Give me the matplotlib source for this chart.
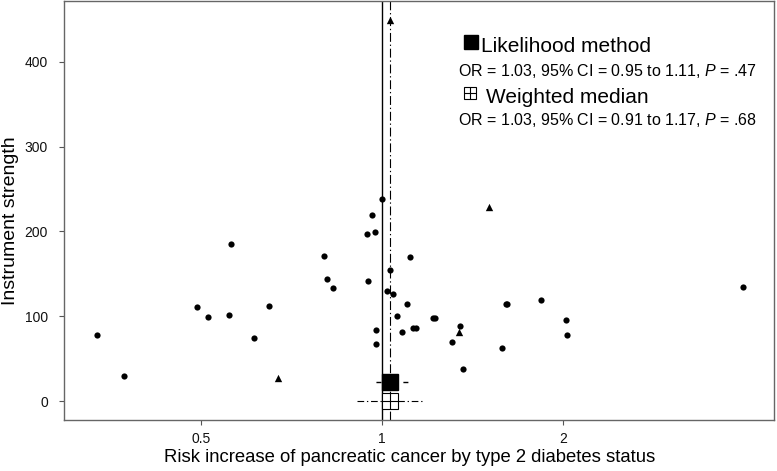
import matplotlib
matplotlib.use("Agg")
import matplotlib.pyplot as plt
import numpy as np

plt.rcParams['font.family'] = ['Liberation Sans', 'DejaVu Sans']
plt.rcParams['mathtext.fontset'] = 'custom'
plt.rcParams['mathtext.it'] = 'Liberation Sans:italic'
plt.rcParams['mathtext.rm'] = 'Liberation Sans'

# SNP estimates (circles)
snp_or = [0.336, 0.372, 0.492, 0.513, 0.560, 0.556, 0.612, 0.649, 0.799, 0.809, 0.830,
          0.949, 0.945, 0.973, 0.977, 0.977, 0.961, 0.999, 1.018, 1.031, 1.044, 1.058,
          1.112, 1.099, 1.080, 1.125, 1.139, 1.217, 1.226, 1.348, 1.309, 1.365, 1.582,
          1.606, 1.614, 1.838, 2.023, 2.031, 3.98]
snp_strength = [77.8, 29.5, 110.5, 98.7, 185, 101.4, 74.7, 111.7, 171, 143.9, 133.6,
                141.5, 197, 199, 83.7, 66.9, 219, 237.8, 129.7, 154.5, 126, 100,
                169.8, 114.4, 81, 86, 86, 98.3, 98.3, 88.8, 69.6, 38, 62.9,
                114.4, 114.4, 119.5, 95.1, 78.2, 134.8]
# SNP estimates (triangles)
tri_or = [0.671, 1.341, 1.504, 1.03]
tri_strength = [27.5, 81.7, 228.4, 449]

# Summary estimates
lik_or, lik_lo, lik_hi, lik_y = 1.03, 0.95, 1.11, 22
wm_or, wm_lo, wm_hi, wm_y = 1.03, 0.91, 1.17, 0

x_ticks = [0.5, 1, 2]
x_ticklabels = ['0.5', '1', '2']
y_ticks = [0, 100, 200, 300, 400]

fig = plt.figure(figsize=(7.77, 4.71), dpi=100)
ax = fig.add_axes([64/777, 1 - 420/471, (774-64)/777, 419/471])
ax.set_xscale('log', base=2)
ax.set_xlim(0.2957, 4.487)
ax.set_ylim(-22.4, 471.7)

ax.axvline(1, color='black', lw=1.0, zorder=1)
ax.axvline(lik_or, color='black', lw=0.8, linestyle=(0, (8, 2.5, 1.2, 2.5)), zorder=1)

ax.scatter(snp_or, snp_strength, s=20, marker='o', color='black', zorder=3, linewidths=0)
ax.scatter(tri_or, tri_strength, s=28, marker='^', color='black', zorder=3, linewidths=0)

ax.plot([lik_lo, lik_hi], [lik_y, lik_y], color='black', lw=1.0, linestyle=(4.7, (3.6, 6.1)), zorder=2)
ax.plot([wm_lo, wm_hi], [wm_y, wm_y], color='black', lw=0.8, linestyle=(0, (6, 2.5, 1.2, 2.5)), zorder=2)
ax.plot([lik_or], [lik_y], marker='s', markersize=11.8, color='black', zorder=4)
ax.plot([wm_or], [wm_y], marker='s', markersize=12, markerfacecolor='white',
        markeredgecolor='black', markeredgewidth=0.8, zorder=4)
ax.plot([wm_or], [wm_y], marker='+', markersize=12, color='black', markeredgewidth=0.8, zorder=5)

ax.set_xticks(x_ticks)
ax.set_xticklabels(x_ticklabels)
ax.xaxis.set_minor_locator(matplotlib.ticker.NullLocator())
ax.set_yticks(y_ticks)
ax.tick_params(axis='both', labelsize=10, length=3.6, color='#555555', labelcolor='#111111')
ax.tick_params(axis='y', pad=8)
ax.tick_params(axis='x', pad=5)
for s in ax.spines.values():
    s.set_color('#666666')
    s.set_linewidth(1.0)

ax.set_xlabel('Risk increase of pancreatic cancer by type 2 diabetes status', fontsize=13.3)
ax.set_ylabel('Instrument strength', fontsize=14)
ax.xaxis.set_label_coords(0.487, -0.069)
ax.yaxis.set_label_coords(-0.063, 0.475)

# Legend-like annotations
tr = fig.transFigure
def fx(p): return p / 777
def fy(p): return 1 - p / 471

fig.lines.append(plt.Line2D([fx(471)], [fy(42)], marker='s', markersize=9.7, color='black', transform=tr))
fig.text(fx(481), fy(51.5), 'Likelihood method', fontsize=15, ha='left', va='baseline')
fig.text(fx(757), fy(76), 'OR = 1.03, 95% CI = 0.95 to 1.11, $\\mathit{P}$ = .47', fontsize=11.5, ha='right', va='baseline')
fig.lines.append(plt.Line2D([fx(470)], [fy(93)], marker='s', markersize=8.6, markerfacecolor='white',
                            markeredgecolor='black', markeredgewidth=0.8, color='black', transform=tr))
fig.lines.append(plt.Line2D([fx(470)], [fy(93)], marker='+', markersize=8.6, markeredgewidth=0.8,
                            color='black', transform=tr))
fig.text(fx(486), fy(102.7), 'Weighted median', fontsize=15, ha='left', va='baseline')
fig.text(fx(757), fy(125), 'OR = 1.03, 95% CI = 0.91 to 1.17, $\\mathit{P}$ = .68', fontsize=11.5, ha='right', va='baseline')

fig.savefig('out.png', dpi=100)
